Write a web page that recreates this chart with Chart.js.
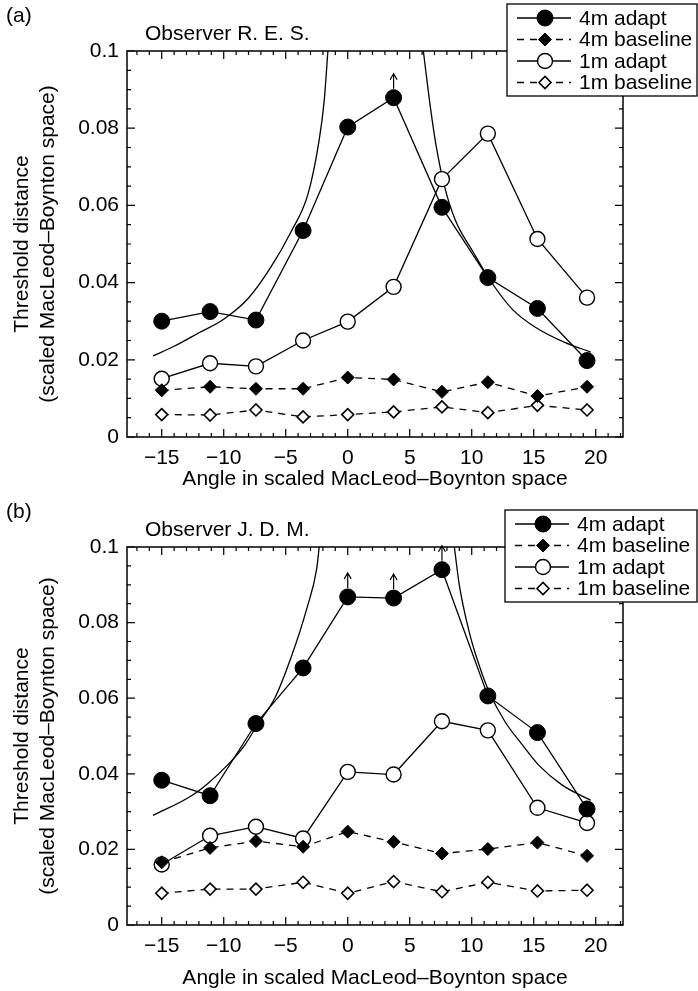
<!DOCTYPE html>
<html>
<head>
<meta charset="utf-8">
<title>Threshold distance vs angle in scaled MacLeod–Boynton space</title>
<script src="https://cdn.jsdelivr.net/npm/chart.js@4.4.1/dist/chart.umd.min.js"></script>
<style>
  html, body { margin: 0; padding: 0; background: #ffffff; }
  canvas { display: block; }
</style>
</head>
<body>
<canvas id="chartA" width="698" height="496"></canvas>
<canvas id="chartB" width="698" height="495"></canvas>
<script>
// test directions (deg), same for both observers
const angles = [-15, -11.1, -7.4, -3.6, 0, 3.7, 7.6, 11.3, 15.3, 19.3];

// (a) Observer R. E. S.
const adapt4mA = [0.0300, 0.0325, 0.0303, 0.0535, 0.0803, 0.0879, 0.0595, 0.0413, 0.0333, 0.0198];
const base4mA  = [0.0121, 0.0130, 0.0125, 0.0125, 0.0154, 0.0149, 0.0117, 0.0142, 0.0106, 0.0130];
const adapt1mA = [0.0151, 0.0191, 0.0183, 0.0250, 0.0299, 0.0389, 0.0668, 0.0786, 0.0513, 0.0361];
const base1mA  = [0.0058, 0.0057, 0.0070, 0.0052, 0.0058, 0.0065, 0.0078, 0.0063, 0.0082, 0.0070];
const fitLeftAx  = [-15.7, -14, -12, -10, -8, -6.2, -4.6, -3.2, -2.3, -1.9, -1.6];
const fitLeftAy  = [0.021, 0.0235, 0.027, 0.0305, 0.036, 0.044, 0.053, 0.063, 0.077, 0.087, 0.1];
const fitRightAx = [6.1, 6.6, 7.1, 7.8, 8.7, 10.1, 11.4, 13.3, 15.1, 17.5, 19.6];
const fitRightAy = [0.1, 0.087, 0.076, 0.065, 0.056, 0.048, 0.041, 0.033, 0.0285, 0.0245, 0.022];
const arrowsA = [5];

// (b) Observer J. D. M.
const adapt4mB = [0.0383, 0.0342, 0.0533, 0.0680, 0.0868, 0.0865, 0.0940, 0.0606, 0.0509, 0.0307];
const base4mB  = [0.0166, 0.0204, 0.0222, 0.0207, 0.0247, 0.0220, 0.0189, 0.0201, 0.0218, 0.0183];
const adapt1mB = [0.0160, 0.0236, 0.0260, 0.0229, 0.0405, 0.0398, 0.0539, 0.0515, 0.0310, 0.0270];
const base1mB  = [0.0084, 0.0095, 0.0095, 0.0113, 0.0084, 0.0115, 0.0088, 0.0113, 0.0090, 0.0092];
const fitLeftBx  = [-15.7, -12.7, -11.3, -9.7, -8.3, -7.3, -5.9, -4.6, -3.3, -2.5, -2.3];
const fitLeftBy  = [0.029, 0.034, 0.0374, 0.0423, 0.0476, 0.0529, 0.0599, 0.0705, 0.0837, 0.0943, 0.1];
const fitRightBx = [8.6, 9.0, 9.8, 10.6, 11.4, 12.7, 14.1, 15.4, 17.3, 19.6];
const fitRightBy = [0.1, 0.0899, 0.0775, 0.0687, 0.0617, 0.0537, 0.0476, 0.0423, 0.037, 0.033];
const arrowsB = [4, 5, 6];

// axes
const xTickValues = [-15, -10, -5, 0, 5, 10, 15, 20];
const xTickLabels = ['\u221215', '\u221210', '\u22125', '0', '5', '10', '15', '20'];
const yTickValues = [0, 0.02, 0.04, 0.06, 0.08, 0.1];
const yTickLabels = ['0', '0.02', '0.04', '0.06', '0.08', '0.1'];
const xTitle = 'Angle in scaled MacLeod\u2013Boynton space';
const yTitle = ['Threshold distance', '(scaled MacLeod\u2013Boynton space)'];

const FONT = "'Liberation Sans', Arial, Helvetica, sans-serif";

function pts(xs, ys) {
    return xs.map((x, i) => ({ x: x, y: ys[i] }));
}

// frame with inward ticks, arrows, panel texts, legend box
const panelPlugin = {
    id: 'panel',
    afterDraw(chart, args, opts) {
        const ctx = chart.ctx;
        const a = chart.chartArea;
        const xs = chart.scales.x, ys = chart.scales.y;
        ctx.save();
        ctx.strokeStyle = '#000';
        ctx.fillStyle = '#000';

        // frame
        ctx.lineWidth = 1.5;
        ctx.strokeRect(a.left, a.top, a.right - a.left, a.bottom - a.top);

        // ticks
        ctx.lineWidth = 1.2;
        ctx.beginPath();
        for (let v = -17; v <= 22; v++) {
            const px = xs.getPixelForValue(v);
            const len = v % 5 === 0 ? 8 : 4;
            ctx.moveTo(px, a.bottom); ctx.lineTo(px, a.bottom - len);
            ctx.moveTo(px, a.top); ctx.lineTo(px, a.top + len);
        }
        for (let k = 0; k <= 20; k++) {
            const py = ys.getPixelForValue(k * 0.005);
            const len = k % 4 === 0 ? 8 : 4;
            ctx.moveTo(a.left, py); ctx.lineTo(a.left + len, py);
            ctx.moveTo(a.right, py); ctx.lineTo(a.right - len, py);
        }
        ctx.stroke();

        // lower-bound arrows
        const meta = chart.getDatasetMeta(0);
        ctx.lineWidth = 1.2;
        opts.arrows.forEach(i => {
            const p = meta.data[i];
            ctx.beginPath();
            ctx.moveTo(p.x, p.y - 9);
            ctx.lineTo(p.x, p.y - 24);
            ctx.moveTo(p.x - 3.5, p.y - 18);
            ctx.lineTo(p.x, p.y - 24);
            ctx.lineTo(p.x + 3.5, p.y - 18);
            ctx.stroke();
        });

        // panel tag and observer
        ctx.font = '21px ' + FONT;
        ctx.textBaseline = 'middle';
        ctx.textAlign = 'left';
        ctx.fillText(opts.tag, 6, 16);
        ctx.fillText(opts.observer, 145, 34);

        // legend
        const L = opts.legend;
        const items = chart.data.datasets.filter(d => d.inLegend);
        ctx.fillStyle = '#fff';
        ctx.fillRect(L.x, L.y, L.w, L.h);
        ctx.lineWidth = 1.3;
        ctx.strokeRect(L.x, L.y, L.w, L.h);
        items.forEach((d, i) => {
            const cy = L.y + 14 + i * L.row;
            ctx.strokeStyle = '#000';
            ctx.lineWidth = 1.3;
            ctx.setLineDash(d.borderDash || []);
            ctx.beginPath();
            ctx.moveTo(L.x + 10, cy);
            ctx.lineTo(L.x + 64, cy);
            ctx.stroke();
            ctx.setLineDash([]);
            ctx.fillStyle = d.pointBackgroundColor;
            ctx.lineWidth = d.pointBorderWidth;
            Chart.helpers.drawPoint(ctx, {
                pointStyle: d.pointStyle,
                radius: d.pointRadius,
                borderWidth: d.pointBorderWidth,
                rotation: 0
            }, L.x + 38, cy);
            ctx.fillStyle = '#000';
            ctx.fillText(d.label, L.x + 72, cy + 1);
        });
        ctx.restore();
    }
};

function makePanel(id, d, extra) {
    const line = { showLine: true, borderColor: '#000', pointBorderColor: '#000', borderWidth: 1.3 };
    return new Chart(document.getElementById(id), {
        type: 'scatter',
        data: {
            datasets: [
                Object.assign({}, line, {
                    label: '4m adapt', data: pts(angles, d.adapt4m), inLegend: true,
                    pointStyle: 'circle', pointRadius: 8, pointBackgroundColor: '#000', pointBorderWidth: 1, borderDash: []
                }),
                Object.assign({}, line, {
                    label: '4m baseline', data: pts(angles, d.base4m), inLegend: true,
                    pointStyle: 'rectRot', pointRadius: 6.5, pointBackgroundColor: '#000', pointBorderWidth: 1, borderDash: [7, 6]
                }),
                Object.assign({}, line, {
                    label: '1m adapt', data: pts(angles, d.adapt1m), inLegend: true,
                    pointStyle: 'circle', pointRadius: 7.5, pointBackgroundColor: '#fff', pointBorderWidth: 1.4, borderDash: []
                }),
                Object.assign({}, line, {
                    label: '1m baseline', data: pts(angles, d.base1m), inLegend: true,
                    pointStyle: 'rectRot', pointRadius: 6, pointBackgroundColor: '#fff', pointBorderWidth: 1.6, borderDash: [7, 6]
                }),
                Object.assign({}, line, {
                    label: 'fit left', data: pts(d.fitLx, d.fitLy), pointRadius: 0, cubicInterpolationMode: 'monotone'
                }),
                Object.assign({}, line, {
                    label: 'fit right', data: pts(d.fitRx, d.fitRy), pointRadius: 0, cubicInterpolationMode: 'monotone'
                })
            ]
        },
        options: {
            responsive: false,
            animation: false,
            devicePixelRatio: 1,
            layout: { padding: { top: 51, right: 75, left: 0, bottom: 0 } },
            plugins: {
                legend: { display: false },
                tooltip: { enabled: false },
                panel: extra
            },
            scales: {
                x: {
                    type: 'linear',
                    min: -17.8,
                    max: 22.2,
                    afterBuildTicks: s => { s.ticks = xTickValues.map(v => ({ value: v })); },
                    afterFit: s => { s.height = extra.xAxisH; },
                    grid: { display: false, drawTicks: false },
                    border: { display: false },
                    ticks: {
                        autoSkip: false, maxRotation: 0, padding: 9, color: '#000',
                        font: { family: FONT, size: 21 },
                        callback: (v, i) => xTickLabels[i]
                    },
                    title: {
                        display: true, text: xTitle, color: '#000',
                        font: { family: FONT, size: 21 },
                        padding: { top: 0, bottom: extra.xTitlePad }
                    }
                },
                y: {
                    min: 0,
                    max: 0.1,
                    afterBuildTicks: s => { s.ticks = yTickValues.map(v => ({ value: v })); },
                    afterFit: s => { s.width = 127; },
                    grid: { display: false, drawTicks: false },
                    border: { display: false },
                    ticks: {
                        padding: 8, color: '#000',
                        font: { family: FONT, size: 21 },
                        callback: (v, i) => yTickLabels[i]
                    },
                    title: {
                        display: true, text: yTitle, color: '#000',
                        font: { family: FONT, size: 21 },
                        padding: { top: 10, bottom: 0 }
                    }
                }
            }
        },
        plugins: [panelPlugin]
    });
}

makePanel('chartA', {
    adapt4m: adapt4mA, base4m: base4mA, adapt1m: adapt1mA, base1m: base1mA,
    fitLx: fitLeftAx, fitLy: fitLeftAy, fitRx: fitRightAx, fitRy: fitRightAy
}, {
    tag: '(a)', observer: 'Observer R. E. S.', arrows: arrowsA,
    xAxisH: 59, xTitlePad: 4,
    legend: { x: 507, y: 4, w: 190, h: 92, row: 21.5 }
});

makePanel('chartB', {
    adapt4m: adapt4mB, base4m: base4mB, adapt1m: adapt1mB, base1m: base1mB,
    fitLx: fitLeftBx, fitLy: fitLeftBy, fitRx: fitRightBx, fitRy: fitRightBy
}, {
    tag: '(b)', observer: 'Observer J. D. M.', arrows: arrowsB,
    xAxisH: 66, xTitlePad: 0,
    legend: { x: 505, y: 14, w: 192, h: 92, row: 21.5 }
});
</script>
</body>
</html>
